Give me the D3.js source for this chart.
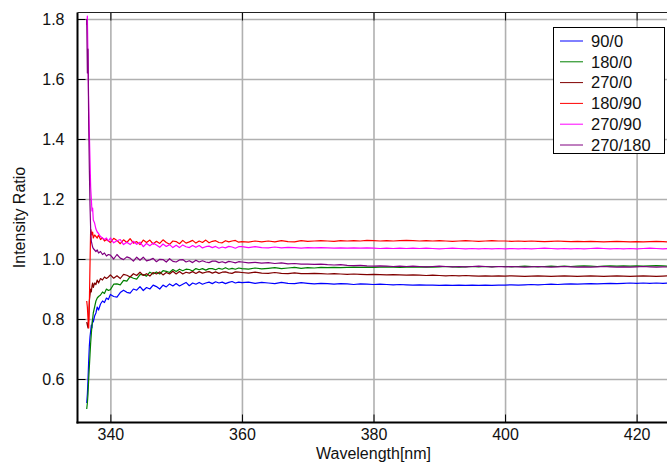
<!DOCTYPE html>
<html>
<head>
<meta charset="utf-8">
<script src="https://d3js.org/d3.v7.min.js"></script>
<style>
  body { margin: 0; background: #fff; }
  svg { display: block; font-family: 'Liberation Sans', Arial, Helvetica, sans-serif; }
  .grid line { stroke: #b0b0b0; stroke-width: 1.6; }
  .grid path { display: none; }
  .axis path { display: none; }
  .axis line { stroke: #000; }
  .axis text { font-size: 16px; fill: #111; }
  .label { font-size: 16px; fill: #111; }
  .legend text { font-size: 16.5px; fill: #111; }
</style>
</head>
<body>
<svg id="chart" width="667" height="464"></svg>
<script>
// wavelength grid [nm]
var wl = [
  336.4, 336.5, 336.6, 336.7, 336.8, 336.9, 337.0, 337.1, 337.2, 337.3,
  337.4, 337.6, 337.8, 338.0, 338.2, 338.5, 338.8, 339.1, 339.4, 339.7,
  340, 340.5, 341, 341.5, 342, 342.5, 343, 343.5, 344, 344.5,
  345, 345.5, 346, 346.5, 347, 347.5, 348, 348.5, 349, 349.5,
  350, 350.5, 351, 351.5, 352, 352.5, 353, 353.5, 354, 354.5,
  355, 355.5, 356, 356.5, 357, 357.5, 358, 358.5, 359, 359.5,
  360, 361, 362, 363, 364, 365, 366, 367, 368, 369,
  370, 371, 372, 373, 374, 375, 376, 377, 378, 379,
  380, 381, 382, 383, 384, 385, 386, 387, 388, 389,
  390, 391, 392, 393, 394, 395, 396, 397, 398, 399,
  400, 401, 402, 403, 404, 405, 406, 407, 408, 409,
  410, 411, 412, 413, 414, 415, 416, 417, 418, 419,
  420, 421, 422, 423, 424, 425
];

var r90_0 = [
  0.52, 0.55, 0.60, 0.66, 0.71, 0.74, 0.76, 0.78, 0.77, 0.80,
  0.79, 0.81, 0.82, 0.84, 0.83, 0.85, 0.86, 0.855, 0.87, 0.865,
  0.882, 0.875, 0.873, 0.888, 0.896, 0.889, 0.886, 0.9, 0.896, 0.908,
  0.895, 0.905, 0.9, 0.913, 0.908, 0.9, 0.913, 0.907, 0.917, 0.91,
  0.918, 0.91, 0.916, 0.922, 0.911, 0.92, 0.916, 0.922, 0.916, 0.92,
  0.923, 0.918, 0.924, 0.92, 0.923, 0.918, 0.922, 0.925, 0.92, 0.923,
  0.921, 0.923, 0.919, 0.922, 0.92, 0.918, 0.922, 0.919, 0.918, 0.921,
  0.919, 0.917, 0.919, 0.918, 0.916, 0.918, 0.917, 0.915, 0.917, 0.916,
  0.915, 0.916, 0.915, 0.914, 0.915, 0.914, 0.913, 0.914, 0.913, 0.913,
  0.912, 0.913, 0.912, 0.913, 0.912, 0.913, 0.912, 0.913, 0.912, 0.913,
  0.913, 0.914, 0.913, 0.914, 0.915, 0.914, 0.915, 0.916, 0.915, 0.916,
  0.917, 0.916, 0.917, 0.918, 0.917, 0.918, 0.919, 0.918, 0.919, 0.92,
  0.919, 0.92, 0.919, 0.92, 0.919, 0.92
];

var r180_0 = [
  0.50, 0.52, 0.55, 0.60, 0.64, 0.68, 0.72, 0.75, 0.78, 0.80,
  0.82, 0.84, 0.86, 0.87, 0.875, 0.88, 0.89, 0.885, 0.90, 0.895,
  0.898, 0.916, 0.917, 0.914, 0.929, 0.926, 0.941, 0.936, 0.933, 0.948,
  0.948, 0.943, 0.956, 0.95, 0.957, 0.95, 0.961, 0.959, 0.955, 0.965,
  0.958, 0.966, 0.961, 0.966, 0.965, 0.96, 0.968, 0.964, 0.968, 0.963,
  0.968, 0.968, 0.964, 0.969, 0.966, 0.971, 0.966, 0.969, 0.966, 0.97,
  0.968, 0.966, 0.97, 0.967, 0.969, 0.971, 0.968, 0.97, 0.972, 0.969,
  0.971, 0.97, 0.972, 0.971, 0.972, 0.971, 0.972, 0.973, 0.972, 0.973,
  0.972, 0.973, 0.974, 0.973, 0.972, 0.973, 0.974, 0.973, 0.974, 0.973,
  0.974, 0.975, 0.974, 0.973, 0.974, 0.975, 0.974, 0.975, 0.974, 0.975,
  0.975, 0.974, 0.975, 0.976, 0.975, 0.974, 0.975, 0.976, 0.975, 0.976,
  0.975, 0.976, 0.977, 0.976, 0.975, 0.976, 0.977, 0.976, 0.977, 0.976,
  0.977, 0.976, 0.977, 0.978, 0.977, 0.976
];

var r270_0 = [
  0.79, 0.78, 0.77, 0.80, 0.86, 0.88, 0.90, 0.89, 0.91, 0.92,
  0.905, 0.92, 0.915, 0.93, 0.92, 0.935, 0.93, 0.94, 0.935, 0.94,
  0.947, 0.936, 0.944, 0.935, 0.949, 0.946, 0.94, 0.951, 0.945, 0.956,
  0.945, 0.951, 0.943, 0.955, 0.95, 0.957, 0.947, 0.955, 0.95, 0.959,
  0.95, 0.958, 0.95, 0.956, 0.953, 0.958, 0.952, 0.958, 0.953, 0.956,
  0.958, 0.953, 0.957, 0.952, 0.956, 0.957, 0.954, 0.952, 0.957, 0.956,
  0.955, 0.953, 0.956, 0.953, 0.952, 0.955, 0.952, 0.951, 0.954, 0.951,
  0.951, 0.952, 0.951, 0.95, 0.951, 0.95, 0.949, 0.95, 0.949, 0.948,
  0.949, 0.948, 0.947, 0.948, 0.947, 0.946, 0.947, 0.946, 0.945, 0.946,
  0.945, 0.944, 0.945, 0.944, 0.945, 0.944, 0.943, 0.944, 0.943, 0.944,
  0.943, 0.944, 0.943, 0.942, 0.943, 0.944, 0.943, 0.942, 0.943, 0.944,
  0.943, 0.942, 0.943, 0.944, 0.943, 0.942, 0.943, 0.944, 0.943, 0.942,
  0.943, 0.944, 0.943, 0.942, 0.943, 0.944
];

var r180_90 = [
  0.86, 0.84, 0.80, 0.77, 0.85, 0.98, 1.10, 1.09, 1.08, 1.09,
  1.07, 1.08, 1.075, 1.07, 1.08, 1.065, 1.07, 1.06, 1.065, 1.06,
  1.055, 1.069, 1.062, 1.051, 1.064, 1.055, 1.068, 1.053, 1.058, 1.048,
  1.063, 1.055, 1.063, 1.05, 1.059, 1.052, 1.064, 1.055, 1.049, 1.06,
  1.058, 1.051, 1.062, 1.053, 1.057, 1.062, 1.053, 1.06, 1.055, 1.063,
  1.054, 1.059, 1.061, 1.055, 1.054, 1.061, 1.057, 1.06, 1.062, 1.056,
  1.058, 1.056, 1.06, 1.057, 1.06, 1.057, 1.061, 1.058, 1.057, 1.061,
  1.059, 1.06, 1.061, 1.06, 1.059, 1.061, 1.06, 1.061, 1.06, 1.062,
  1.061, 1.06, 1.061, 1.06, 1.061, 1.062, 1.061, 1.06, 1.061, 1.06,
  1.061, 1.06, 1.059, 1.06, 1.061, 1.06, 1.059, 1.06, 1.061, 1.06,
  1.06, 1.059, 1.06, 1.059, 1.06, 1.059, 1.058, 1.059, 1.06, 1.059,
  1.058, 1.059, 1.058, 1.059, 1.058, 1.057, 1.058, 1.059, 1.058, 1.057,
  1.058, 1.057, 1.058, 1.059, 1.058, 1.057
];

var r270_90 = [
  1.78, 1.81, 1.66, 1.52, 1.42, 1.33, 1.24, 1.20, 1.16, 1.17,
  1.13, 1.12, 1.10, 1.09, 1.085, 1.075, 1.07, 1.065, 1.07, 1.06,
  1.07, 1.054, 1.061, 1.065, 1.048, 1.056, 1.048, 1.059, 1.049, 1.056,
  1.041, 1.052, 1.044, 1.053, 1.047, 1.039, 1.05, 1.042, 1.048, 1.038,
  1.046, 1.038, 1.047, 1.041, 1.038, 1.045, 1.039, 1.045, 1.037, 1.041,
  1.043, 1.038, 1.042, 1.036, 1.04, 1.037, 1.042, 1.04, 1.036, 1.041,
  1.041, 1.038, 1.041, 1.038, 1.037, 1.04, 1.037, 1.039, 1.038, 1.036,
  1.038, 1.037, 1.038, 1.037, 1.036, 1.037, 1.036, 1.037, 1.036, 1.037,
  1.036, 1.035, 1.036, 1.035, 1.036, 1.035, 1.036, 1.035, 1.036, 1.035,
  1.034, 1.035, 1.036, 1.035, 1.034, 1.035, 1.034, 1.035, 1.034, 1.035,
  1.034, 1.035, 1.034, 1.035, 1.034, 1.035, 1.036, 1.035, 1.034, 1.035,
  1.034, 1.035, 1.034, 1.035, 1.036, 1.035, 1.034, 1.035, 1.034, 1.035,
  1.034, 1.035, 1.036, 1.035, 1.034, 1.035
];

var r270_180 = [
  1.80, 1.62, 1.70, 1.45, 1.30, 1.18, 1.10, 1.06, 1.05, 1.04,
  1.035, 1.03, 1.025, 1.03, 1.02, 1.025, 1.015, 1.02, 1.01, 1.015,
  1.013, 1.0, 1.015, 1.003, 0.998, 1.007, 1.003, 0.993, 1.006, 0.996,
  1.006, 0.994, 0.997, 1.002, 0.991, 0.999, 0.998, 0.99, 1.001, 0.992,
  0.99, 0.997, 0.998, 0.99, 0.994, 0.988, 0.996, 0.99, 0.994, 0.99,
  0.988, 0.993, 0.993, 0.988, 0.991, 0.987, 0.992, 0.99, 0.987, 0.991,
  0.99, 0.987, 0.989, 0.986, 0.988, 0.985, 0.987, 0.984, 0.985, 0.983,
  0.983, 0.982, 0.983, 0.981, 0.98, 0.981, 0.979, 0.978, 0.979, 0.977,
  0.976, 0.977, 0.976, 0.975, 0.976, 0.975, 0.976, 0.975, 0.974, 0.975,
  0.976, 0.975, 0.974, 0.975, 0.974, 0.975, 0.976, 0.975, 0.974, 0.975,
  0.974, 0.975, 0.974, 0.973, 0.974, 0.975, 0.974, 0.973, 0.974, 0.975,
  0.974, 0.973, 0.974, 0.973, 0.974, 0.975, 0.974, 0.973, 0.974, 0.973,
  0.974, 0.975, 0.974, 0.973, 0.974, 0.973
];

var seriesNames = ['90/0', '180/0', '270/0', '180/90', '270/90', '270/180'];
var seriesValues = [r90_0, r180_0, r270_0, r180_90, r270_90, r270_180];
var seriesColors = ['#0000ff', '#008000', '#800000', '#ff0000', '#ff00ff', '#800080'];

var xTicks = [340, 360, 380, 400, 420];
var yTicks = [0.6, 0.8, 1.0, 1.2, 1.4, 1.6, 1.8];

var svg = d3.select('#chart');
var plot = { left: 77.5, right: 669.5, top: 12.5, bottom: 422.5 };

var xScale = d3.scaleLinear()
  .domain([335, 425])
  .range([plot.left, plot.right]);

var yScale = d3.scaleLinear()
  .domain([0.455, 1.8217])
  .range([plot.bottom, plot.top]);

// grid
svg.append('g')
  .attr('class', 'grid')
  .attr('transform', 'translate(0,' + plot.bottom + ')')
  .call(d3.axisBottom(xScale).tickValues(xTicks).tickSize(-(plot.bottom - plot.top)).tickFormat(''));

svg.append('g')
  .attr('class', 'grid')
  .attr('transform', 'translate(' + plot.left + ',0)')
  .call(d3.axisLeft(yScale).tickValues(yTicks).tickSize(-(plot.right - plot.left)).tickFormat(''));

// clip for the data
svg.append('clipPath')
  .attr('id', 'clip')
  .append('rect')
  .attr('x', plot.left)
  .attr('y', plot.top)
  .attr('width', plot.right - plot.left)
  .attr('height', plot.bottom - plot.top);

var line = d3.line()
  .x(function (d) { return xScale(d[0]); })
  .y(function (d) { return yScale(d[1]); });

var lines = svg.append('g').attr('clip-path', 'url(#clip)');

seriesValues.forEach(function (vals, k) {
  var pts = vals.map(function (v, i) { return [wl[i], v]; });
  lines.append('path')
    .datum(pts)
    .attr('fill', 'none')
    .attr('stroke', seriesColors[k])
    .attr('stroke-width', 1.2)
    .attr('stroke-linejoin', 'round')
    .attr('d', line);
});

// axes with inward ticks
svg.append('g')
  .attr('class', 'axis')
  .attr('transform', 'translate(0,' + plot.bottom + ')')
  .call(d3.axisBottom(xScale).tickValues(xTicks).tickSizeInner(-8).tickSizeOuter(0).tickPadding(6));

svg.append('g')
  .attr('class', 'axis')
  .attr('transform', 'translate(0,' + plot.top + ')')
  .call(d3.axisTop(xScale).tickValues(xTicks).tickSizeInner(-8).tickSizeOuter(0).tickFormat(''));

svg.append('g')
  .attr('class', 'axis')
  .attr('transform', 'translate(' + plot.left + ',0)')
  .call(d3.axisLeft(yScale).tickValues(yTicks).tickSizeInner(-8).tickSizeOuter(0).tickPadding(13)
    .tickFormat(d3.format('.1f')));

// frame
svg.append('line')
  .attr('x1', plot.left).attr('x2', plot.left)
  .attr('y1', plot.top).attr('y2', plot.bottom + 1)
  .attr('stroke', '#000').attr('stroke-width', 2);

svg.append('line')
  .attr('x1', plot.left - 1).attr('x2', plot.right)
  .attr('y1', plot.bottom).attr('y2', plot.bottom)
  .attr('stroke', '#000').attr('stroke-width', 2);

svg.append('line')
  .attr('x1', plot.left).attr('x2', plot.right)
  .attr('y1', plot.top).attr('y2', plot.top)
  .attr('stroke', '#222').attr('stroke-width', 1);

// axis labels
svg.append('text')
  .attr('class', 'label')
  .attr('transform', 'rotate(-90)')
  .attr('x', -(plot.top + plot.bottom) / 2)
  .attr('y', 25)
  .style('text-anchor', 'middle')
  .text('Intensity Ratio');

svg.append('text')
  .attr('class', 'label')
  .attr('x', (plot.left + plot.right) / 2)
  .attr('y', 459)
  .style('text-anchor', 'middle')
  .text('Wavelength[nm]');

// legend
var legend = svg.append('g').attr('class', 'legend');

legend.append('rect')
  .attr('x', 553.5)
  .attr('y', 27.5)
  .attr('width', 111)
  .attr('height', 126)
  .attr('fill', '#fff')
  .attr('stroke', '#000')
  .attr('stroke-width', 1);

seriesNames.forEach(function (name, k) {
  var yy = 41 + k * 20.8;
  legend.append('line')
    .attr('x1', 560).attr('x2', 583)
    .attr('y1', yy).attr('y2', yy)
    .attr('stroke', seriesColors[k])
    .attr('stroke-width', 1);
  legend.append('text')
    .attr('x', 591)
    .attr('y', yy)
    .attr('dy', '0.35em')
    .text(name);
});
</script>
</body>
</html>
